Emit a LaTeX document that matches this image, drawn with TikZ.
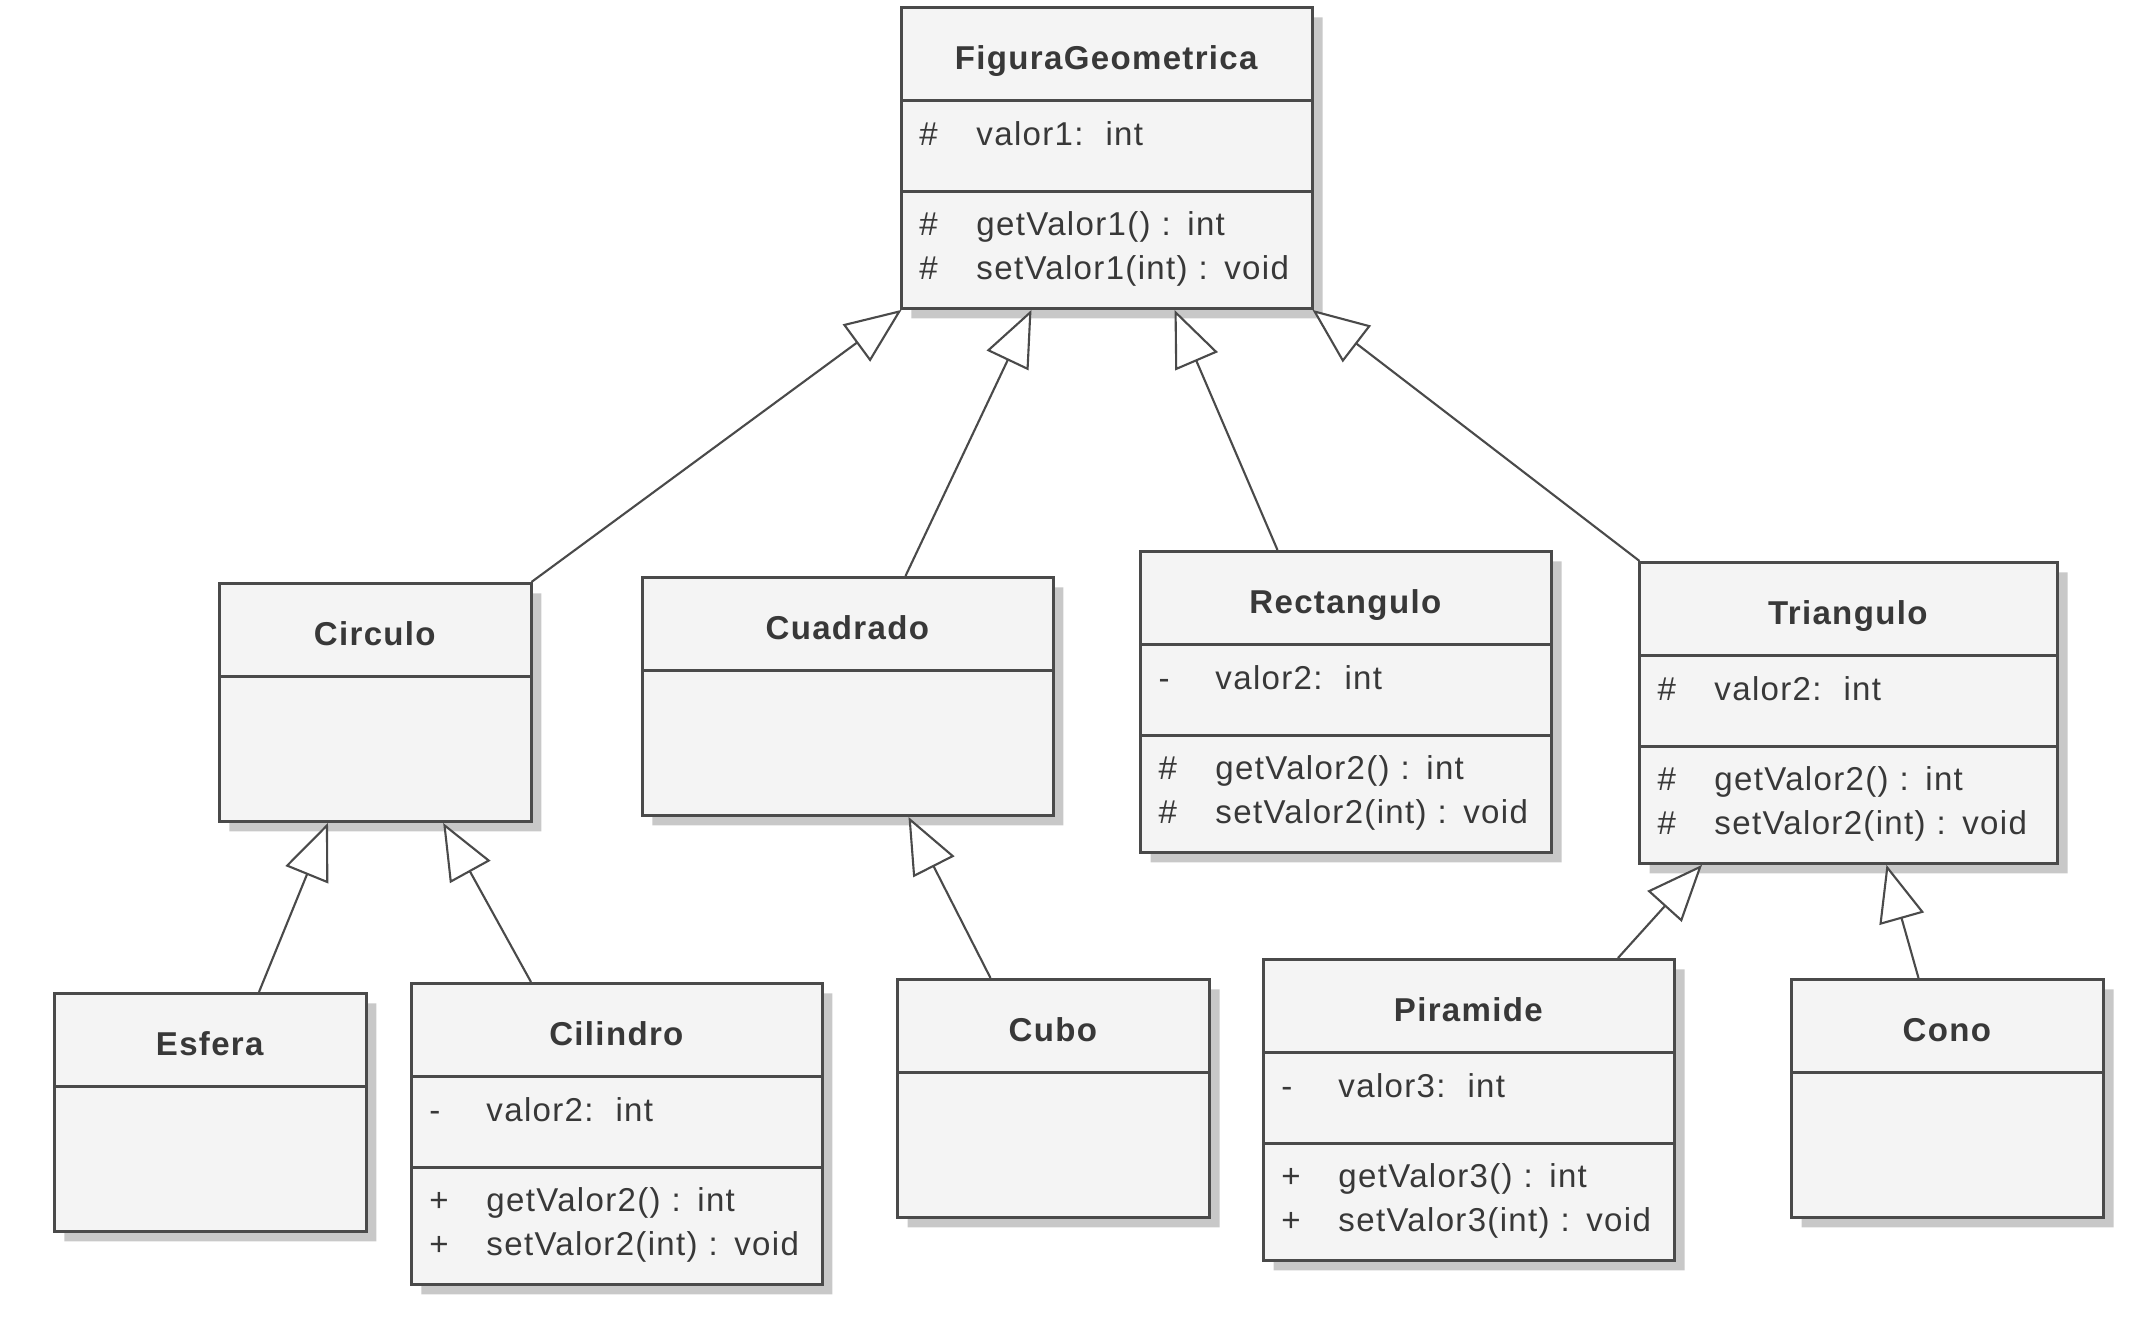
\documentclass[tikz,border=0pt]{standalone}
\usepackage{fontspec}
\setmainfont{Liberation Sans}[LetterSpace=4.0]
\usetikzlibrary{shapes.multipart, shadows, arrows.meta}
\definecolor{umlfill}{HTML}{F4F4F4}
\definecolor{umlline}{HTML}{4A4A4A}
\definecolor{umlshadow}{HTML}{C8C8C8}
\definecolor{umltext}{HTML}{383838}
% struts that fix the height of each compartment
\newcommand{\tstrut}{\rule[-0.29cm]{0pt}{0.90cm}}
\newcommand{\astrut}{\rule[-0.44cm]{0pt}{0.88cm}}
\newcommand{\ostrut}{\rule{0pt}{0.43cm}}
\newcommand{\oend}{\rule[-0.27cm]{0pt}{0.27cm}}
\newcommand{\estrut}{\rule{0pt}{1.42cm}}
\newcommand{\umltitle}[1]{\makebox[\linewidth][c]{\tstrut\textbf{#1}}}
\newcommand{\member}[2]{\makebox[0.57cm][l]{#1}\mbox{#2}}

\begin{document}
\begin{tikzpicture}[
		uml/.style={rectangle split, draw=umlline, line width=0.85pt, fill=umlfill,
			text=umltext, inner xsep=0.18cm, inner ysep=0pt, anchor=north west,
			font=\fontsize{9.4}{12.5}\selectfont,
			drop shadow={shadow xshift=0.1cm, shadow yshift=-0.1cm, fill=umlshadow, opacity=1}},
		uml3/.style={uml, rectangle split parts=3},
		uml2/.style={uml, rectangle split parts=2},
		gen/.style={draw=umlline, line width=0.6pt,
			-{Triangle[length=0.56cm, width=0.46cm, fill=white]}}]
			\useasboundingbox (0,0) rectangle (21.29,-13.17);
			\node[uml3, text width=3.75cm] (fig) at (9.00,-0.06) {\umltitle{FiguraGeometrica}
				\nodepart{two}\astrut\member{\#}{valor1:\ \ int}
				\nodepart{three}\ostrut\member{\#}{getValor1() : int}\\\oend\member{\#}{setValor1(int) : void}};
			\node[uml2, text width=2.76cm] (circ) at (2.18,-5.82) {\umltitle{Circulo}
				\nodepart{two}\estrut};
			\node[uml2, text width=3.75cm] (cuad) at (6.41,-5.76) {\umltitle{Cuadrado}
				\nodepart{two}\estrut};
			\node[uml3, text width=3.75cm] (rect) at (11.39,-5.50) {\umltitle{Rectangulo}
				\nodepart{two}\astrut\member{-}{valor2:\ \ int}
				\nodepart{three}\ostrut\member{\#}{getValor2() : int}\\\oend\member{\#}{setValor2(int) : void}};
			\node[uml3, text width=3.82cm] (tri) at (16.38,-5.61) {\umltitle{Triangulo}
				\nodepart{two}\astrut\member{\#}{valor2:\ \ int}
				\nodepart{three}\ostrut\member{\#}{getValor2() : int}\\\oend\member{\#}{setValor2(int) : void}};
			\node[uml2, text width=2.76cm] (esf) at (0.53,-9.92) {\umltitle{Esfera}
				\nodepart{two}\estrut};
			\node[uml3, text width=3.75cm] (cil) at (4.10,-9.82) {\umltitle{Cilindro}
				\nodepart{two}\astrut\member{-}{valor2:\ \ int}
				\nodepart{three}\ostrut\member{+}{getValor2() : int}\\\oend\member{+}{setValor2(int) : void}};
			\node[uml2, text width=2.76cm] (cubo) at (8.96,-9.78) {\umltitle{Cubo}
				\nodepart{two}\estrut};
			\node[uml3, text width=3.75cm] (pir) at (12.62,-9.58) {\umltitle{Piramide}
				\nodepart{two}\astrut\member{-}{valor3:\ \ int}
				\nodepart{three}\ostrut\member{+}{getValor3() : int}\\\oend\member{+}{setValor3(int) : void}};
			\node[uml2, text width=2.76cm] (cono) at (17.90,-9.78) {\umltitle{Cono}
				\nodepart{two}\estrut};
			% generalisations: child/shift/parent/shift
			\foreach \sub/\da/\super/\db in {circ/1.56/fig/-2.055, cuad/0.575/fig/-0.755,
				rect/-0.685/fig/0.675, tri/-2.09/fig/2.055, esf/0.485/circ/-0.475,
				cil/-0.86/circ/0.677, cubo/-0.63/cuad/0.605, pir/1.49/tri/-1.465,
				cono/-0.29/tri/0.38}
				{
					\draw[gen] ([xshift=\da cm]\sub.north) -- ([xshift=\db cm]\super.south);
				}
		\end{tikzpicture}
\end{document}
